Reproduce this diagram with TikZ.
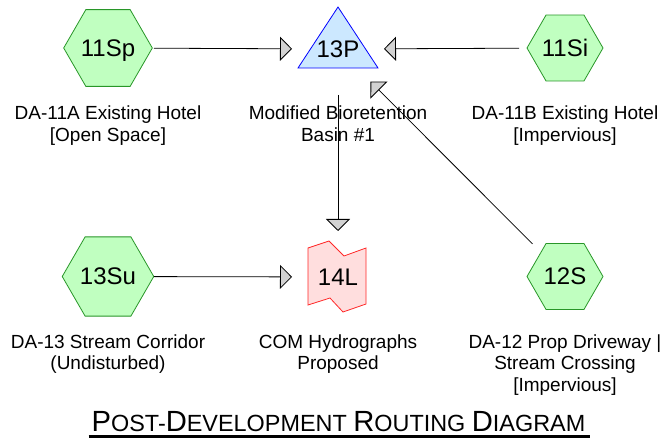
\documentclass[tikz,border=0pt]{standalone}
\usepackage{fontspec}
\setmainfont{Liberation Sans}
\usetikzlibrary{arrows.meta,shapes.geometric}
\definecolor{hexfill}{RGB}{192,255,192}
\definecolor{hexline}{RGB}{40,150,40}
\definecolor{pondfill}{RGB}{204,232,255}
\definecolor{pondline}{RGB}{0,0,255}
\definecolor{linkfill}{RGB}{255,222,222}
\definecolor{linkline}{RGB}{255,40,40}
\definecolor{headfill}{RGB}{210,210,210}
\newcommand\tbig{\fontsize{29.2}{29}\selectfont}
\newcommand\tsmall{\fontsize{23.4}{29}\selectfont}
\begin{document}
\begin{tikzpicture}[x=1pt,y=-1pt,
  hexnode/.style={regular polygon, regular polygon sides=6, minimum size=76pt, inner sep=0pt,
    draw=hexline, fill=hexfill, line width=0.8pt, font=\fontsize{24}{24}\selectfont,
    text height=17pt, text depth=0pt},
  idtext/.style={inner sep=0pt, font=\fontsize{24}{24}\selectfont, text height=17pt, text depth=0pt},
  desc/.style={inner sep=0pt, align=center, font=\fontsize{19}{21.5}\selectfont, anchor=base},
  flow/.style={line width=0.8pt, shorten <=46pt, shorten >=46pt,
    -{Triangle[length=12pt,width=24pt,fill=headfill]}},
  pondshape/.style={draw=pondline, fill=pondfill, line width=0.8pt},
  linkshape/.style={draw=linkline, fill=linkfill, line width=0.8pt},
]
\useasboundingbox (0,0) rectangle (661,438);

% shapes
\draw[pondshape] (338,7) -- (298,68) -- (378,68) -- cycle;
\draw[linkshape] (308,248) -- (329,241) -- (344,256) -- (366,248) -- (366,304)
  -- (343,312) -- (330,298) -- (308,305) -- cycle;

% nodes
\node[hexnode] (h11Sp) at (108,48) {11Sp};
\node[hexnode] (h11Si) at (565,48) {11Si};
\node[hexnode] (h13Su) at (108,276.5) {13Su};
\node[hexnode] (h12S) at (565,276.5) {12S};
\node[idtext] (t13P) at (338,49) {13P};
\node[idtext] (t14L) at (338,277) {14L};

% descriptions (anchor = baseline of the last line)
\node[desc] (d11Sp) at (108,141.5) {DA-11A Existing Hotel\\{}[Open Space]};
\node[desc] (d13P) at (338,141.5) {Modified Bioretention\\Basin \#1};
\node[desc] (d11Si) at (565,141.5) {DA-11B Existing Hotel\\{}[Impervious]};
\node[desc] (d13Su) at (108,369.5) {DA-13 Stream Corridor\\(Undisturbed)};
\node[desc] (d14L) at (338,369.5) {COM Hydrographs\\Proposed};
\node[desc] (d12S) at (565,391) {DA-12 Prop Driveway |\\Stream Crossing\\{}[Impervious]};

% connectors
\draw[flow] (h11Sp.center) -- (t13P.center);
\draw[flow] (h11Si.center) -- (t13P.center);
\draw[flow] (t13P.center) -- (t14L.center);
\draw[flow] (h13Su.center) -- (t14L.center);
\draw[flow] (h12S.center) -- (t13P.center);

% title
\node[anchor=base, inner sep=0pt] (title) at (338.5,431)
  {\tbig P\tsmall OST-\tbig D\tsmall EVELOPMENT \tbig R\tsmall OUTING \tbig D\tsmall IAGRAM};
\draw[line width=3pt] ([xshift=-3pt,yshift=-5pt]title.base west) -- ([xshift=4pt,yshift=-5pt]title.base east);
\end{tikzpicture}
\end{document}
